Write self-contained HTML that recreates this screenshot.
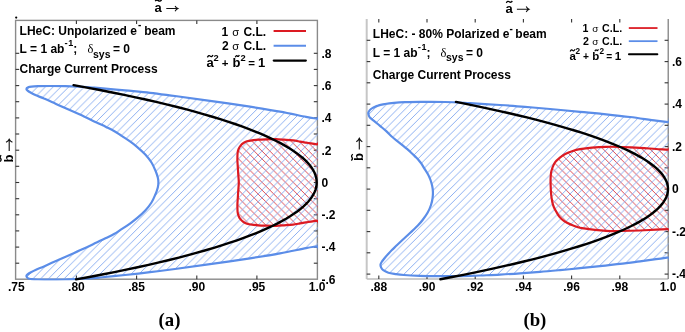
<!DOCTYPE html>
<html><head><meta charset="utf-8"><style>
html,body{margin:0;padding:0;background:#fff;width:685px;height:332px;overflow:hidden}
svg{display:block;will-change:transform}
</style></head><body>
<svg width="685" height="332" viewBox="0 0 685 332" style="font-family:'Liberation Sans',sans-serif;font-weight:bold">
<defs>
<pattern id="hb" patternUnits="userSpaceOnUse" width="7.8" height="7.8" x="7.4" y="0">
<path d="M-1,1 L1,-1 M0,7.8 L7.8,0 M6.8,8.8 L8.8,6.8" stroke="#8aaef1" stroke-width="1" shape-rendering="crispEdges"/>
</pattern>
<pattern id="hr" patternUnits="userSpaceOnUse" width="7.8" height="7.8" x="1.7" y="0">
<path d="M-1,6.8 L1,8.8 M0,0 L7.8,7.8 M6.8,-1 L8.8,1" stroke="#de4650" stroke-width="1" shape-rendering="crispEdges"/>
</pattern>
<clipPath id="cl"><rect x="14.6" y="20.4" width="303.4" height="260.0"/></clipPath>
<clipPath id="cr"><rect x="365.5" y="19.0" width="303.3" height="261.3"/></clipPath>
</defs>
<rect width="685" height="332" fill="#fff"/>

<rect x="15.6" y="20.4" width="301.8" height="258.8" fill="none" stroke="#8a8a8a" stroke-width="1.4"/>
<path d="M76.4,279.2 v-3.6 M76.4,20.4 v3.6" stroke="#333" stroke-width="1.1"/>
<path d="M136.6,279.2 v-3.6 M136.6,20.4 v3.6" stroke="#333" stroke-width="1.1"/>
<path d="M196.8,279.2 v-3.6 M196.8,20.4 v3.6" stroke="#333" stroke-width="1.1"/>
<path d="M256.9,279.2 v-3.6 M256.9,20.4 v3.6" stroke="#333" stroke-width="1.1"/>
<path d="M15.6,263.2 h3.6" stroke="#333" stroke-width="1.1"/>
<path d="M15.6,247.1 h3.6" stroke="#333" stroke-width="1.1"/>
<path d="M15.6,230.9 h3.6" stroke="#333" stroke-width="1.1"/>
<path d="M15.6,214.8 h3.6" stroke="#333" stroke-width="1.1"/>
<path d="M15.6,198.7 h3.6" stroke="#333" stroke-width="1.1"/>
<path d="M15.6,182.5 h3.6" stroke="#333" stroke-width="1.1"/>
<path d="M15.6,166.3 h3.6" stroke="#333" stroke-width="1.1"/>
<path d="M15.6,150.2 h3.6" stroke="#333" stroke-width="1.1"/>
<path d="M15.6,134.0 h3.6" stroke="#333" stroke-width="1.1"/>
<path d="M15.6,117.9 h3.6" stroke="#333" stroke-width="1.1"/>
<path d="M15.6,101.7 h3.6" stroke="#333" stroke-width="1.1"/>
<path d="M15.6,85.6 h3.6" stroke="#333" stroke-width="1.1"/>
<path d="M15.6,69.4 h3.6" stroke="#333" stroke-width="1.1"/>
<path d="M15.6,53.3 h3.6" stroke="#333" stroke-width="1.1"/>
<path d="M317.4,263.2 h-3.6" stroke="#333" stroke-width="1.1"/>
<path d="M317.4,247.1 h-3.6" stroke="#333" stroke-width="1.1"/>
<path d="M317.4,230.9 h-3.6" stroke="#333" stroke-width="1.1"/>
<path d="M317.4,214.8 h-3.6" stroke="#333" stroke-width="1.1"/>
<path d="M317.4,198.7 h-3.6" stroke="#333" stroke-width="1.1"/>
<path d="M317.4,182.5 h-3.6" stroke="#333" stroke-width="1.1"/>
<path d="M317.4,166.3 h-3.6" stroke="#333" stroke-width="1.1"/>
<path d="M317.4,150.2 h-3.6" stroke="#333" stroke-width="1.1"/>
<path d="M317.4,134.0 h-3.6" stroke="#333" stroke-width="1.1"/>
<path d="M317.4,117.9 h-3.6" stroke="#333" stroke-width="1.1"/>
<path d="M317.4,101.7 h-3.6" stroke="#333" stroke-width="1.1"/>
<path d="M317.4,85.6 h-3.6" stroke="#333" stroke-width="1.1"/>
<path d="M317.4,69.4 h-3.6" stroke="#333" stroke-width="1.1"/>
<path d="M317.4,53.3 h-3.6" stroke="#333" stroke-width="1.1"/>
<g clip-path="url(#cl)">
<path d="M322.0,145.1 C321.2,132.5 318.8,144.7 317.0,144.4 C315.2,144.1 312.8,143.7 311.0,143.4 C309.2,143.1 307.8,142.9 306.0,142.6 C304.2,142.3 302.2,142.0 300.0,141.6 C297.8,141.2 295.7,140.7 293.0,140.4 C290.3,140.1 286.8,139.9 284.0,139.7 C281.2,139.5 279.0,139.3 276.0,139.2 C273.0,139.1 269.0,139.2 266.0,139.3 C263.0,139.4 260.3,139.5 258.0,139.7 C255.7,139.9 253.8,140.0 252.0,140.3 C250.2,140.6 248.4,140.9 247.0,141.3 C245.6,141.8 244.6,142.3 243.5,143.0 C242.4,143.7 241.4,144.6 240.6,145.6 C239.8,146.6 239.1,147.8 238.6,149.0 C238.1,150.2 237.8,151.2 237.6,153.0 C237.4,154.8 237.4,157.7 237.4,160.0 C237.4,162.3 237.7,164.5 237.8,167.0 C238.0,169.5 238.1,172.4 238.3,175.0 C238.5,177.6 238.8,180.0 238.8,182.5 C238.8,185.0 238.5,187.4 238.3,190.0 C238.1,192.6 238.0,195.5 237.8,198.0 C237.7,200.5 237.4,202.7 237.4,205.0 C237.4,207.3 237.4,210.2 237.6,212.0 C237.8,213.8 238.1,214.8 238.6,216.0 C239.1,217.2 239.8,218.4 240.6,219.4 C241.4,220.4 242.4,221.3 243.5,222.0 C244.6,222.7 245.6,223.2 247.0,223.7 C248.4,224.1 250.2,224.4 252.0,224.7 C253.8,225.0 255.7,225.1 258.0,225.3 C260.3,225.5 263.0,225.6 266.0,225.7 C269.0,225.8 273.0,225.9 276.0,225.8 C279.0,225.7 281.2,225.5 284.0,225.3 C286.8,225.1 290.3,224.9 293.0,224.6 C295.7,224.3 297.8,223.8 300.0,223.4 C302.2,223.0 304.2,222.7 306.0,222.4 C307.8,222.1 309.2,221.9 311.0,221.6 C312.8,221.3 315.2,220.9 317.0,220.6 C318.8,220.3 321.2,232.5 322.0,219.9 C322.8,207.3 322.8,157.7 322.0,145.1Z" fill="url(#hr)"/>
<path d="M322.0,119.6 C321.2,98.5 319.7,119.2 317.0,118.7 C314.3,118.2 312.2,118.1 306.0,116.9 C299.8,115.7 289.3,113.3 280.0,111.6 C270.7,109.9 261.7,108.5 250.0,106.7 C238.3,104.9 222.5,102.6 210.0,100.8 C197.5,99.0 185.0,97.3 175.0,96.0 C165.0,94.7 158.3,93.7 150.0,92.8 C141.7,91.9 133.3,91.2 125.0,90.4 C116.7,89.6 105.8,88.7 100.0,88.2 C94.2,87.7 93.3,87.5 90.0,87.3 C86.7,87.1 84.3,87.0 80.2,86.8 C76.1,86.6 70.2,86.3 65.2,86.2 C60.2,86.1 54.6,86.0 50.1,86.0 C45.6,86.0 41.1,86.1 38.0,86.2 C34.9,86.3 33.1,86.4 31.5,86.6 C29.9,86.8 29.1,86.9 28.2,87.3 C27.3,87.7 26.5,88.2 26.4,88.8 C26.3,89.3 26.9,90.0 27.6,90.6 C28.3,91.2 29.1,91.7 30.5,92.5 C31.9,93.3 33.8,94.3 36.0,95.3 C38.2,96.3 40.7,97.1 44.0,98.6 C47.3,100.0 52.0,102.2 56.0,104.0 C60.0,105.8 63.3,107.2 68.0,109.3 C72.7,111.4 79.3,114.2 84.0,116.4 C88.7,118.6 92.3,120.5 96.0,122.2 C99.7,124.0 103.0,125.4 106.0,126.9 C109.0,128.4 111.3,129.5 114.0,131.0 C116.7,132.5 119.3,134.4 122.0,136.1 C124.7,137.8 127.5,139.6 130.0,141.4 C132.5,143.2 134.4,144.6 137.0,146.8 C139.6,149.0 142.9,151.9 145.3,154.5 C147.7,157.1 149.8,159.8 151.5,162.5 C153.2,165.2 154.5,168.5 155.6,171.0 C156.7,173.5 157.3,175.6 157.8,177.5 C158.3,179.4 158.4,180.8 158.4,182.5 C158.4,184.2 158.3,185.6 157.8,187.5 C157.3,189.4 156.7,191.5 155.6,194.0 C154.5,196.5 153.2,199.8 151.5,202.5 C149.8,205.2 147.7,207.9 145.3,210.5 C142.9,213.1 139.6,216.0 137.0,218.2 C134.4,220.4 132.5,221.8 130.0,223.6 C127.5,225.4 124.7,227.2 122.0,228.9 C119.3,230.6 116.7,232.5 114.0,234.0 C111.3,235.5 109.0,236.6 106.0,238.1 C103.0,239.6 99.7,241.1 96.0,242.8 C92.3,244.6 88.7,246.4 84.0,248.6 C79.3,250.8 72.7,253.6 68.0,255.7 C63.3,257.8 60.0,259.2 56.0,261.0 C52.0,262.8 47.3,264.9 44.0,266.4 C40.7,267.8 38.2,268.7 36.0,269.7 C33.8,270.7 31.9,271.7 30.5,272.5 C29.1,273.3 28.3,273.8 27.6,274.4 C26.9,275.0 26.3,275.5 26.4,276.2 C26.5,276.9 27.3,277.9 28.2,278.4 C29.1,278.9 29.9,278.9 31.5,279.1 C33.1,279.3 34.9,279.4 38.0,279.5 C41.1,279.6 45.6,279.7 50.1,279.7 C54.6,279.7 60.2,279.6 65.2,279.5 C70.2,279.4 76.1,279.1 80.2,278.9 C84.3,278.7 86.7,278.6 90.0,278.4 C93.3,278.2 94.2,278.1 100.0,277.5 C105.8,276.9 116.7,275.8 125.0,275.0 C133.3,274.1 141.7,273.2 150.0,272.2 C158.3,271.2 165.0,270.3 175.0,269.0 C185.0,267.7 197.5,266.0 210.0,264.2 C222.5,262.4 238.3,260.1 250.0,258.3 C261.7,256.5 270.7,255.1 280.0,253.4 C289.3,251.7 299.8,249.3 306.0,248.1 C312.2,246.9 314.3,246.8 317.0,246.3 C319.7,245.9 321.2,266.5 322.0,245.4 C322.8,224.3 322.8,140.7 322.0,119.6Z" fill="url(#hb)"/>
<path d="M322.0,119.6 C321.2,98.5 319.7,119.2 317.0,118.7 C314.3,118.2 312.2,118.1 306.0,116.9 C299.8,115.7 289.3,113.3 280.0,111.6 C270.7,109.9 261.7,108.5 250.0,106.7 C238.3,104.9 222.5,102.6 210.0,100.8 C197.5,99.0 185.0,97.3 175.0,96.0 C165.0,94.7 158.3,93.7 150.0,92.8 C141.7,91.9 133.3,91.2 125.0,90.4 C116.7,89.6 105.8,88.7 100.0,88.2 C94.2,87.7 93.3,87.5 90.0,87.3 C86.7,87.1 84.3,87.0 80.2,86.8 C76.1,86.6 70.2,86.3 65.2,86.2 C60.2,86.1 54.6,86.0 50.1,86.0 C45.6,86.0 41.1,86.1 38.0,86.2 C34.9,86.3 33.1,86.4 31.5,86.6 C29.9,86.8 29.1,86.9 28.2,87.3 C27.3,87.7 26.5,88.2 26.4,88.8 C26.3,89.3 26.9,90.0 27.6,90.6 C28.3,91.2 29.1,91.7 30.5,92.5 C31.9,93.3 33.8,94.3 36.0,95.3 C38.2,96.3 40.7,97.1 44.0,98.6 C47.3,100.0 52.0,102.2 56.0,104.0 C60.0,105.8 63.3,107.2 68.0,109.3 C72.7,111.4 79.3,114.2 84.0,116.4 C88.7,118.6 92.3,120.5 96.0,122.2 C99.7,124.0 103.0,125.4 106.0,126.9 C109.0,128.4 111.3,129.5 114.0,131.0 C116.7,132.5 119.3,134.4 122.0,136.1 C124.7,137.8 127.5,139.6 130.0,141.4 C132.5,143.2 134.4,144.6 137.0,146.8 C139.6,149.0 142.9,151.9 145.3,154.5 C147.7,157.1 149.8,159.8 151.5,162.5 C153.2,165.2 154.5,168.5 155.6,171.0 C156.7,173.5 157.3,175.6 157.8,177.5 C158.3,179.4 158.4,180.8 158.4,182.5 C158.4,184.2 158.3,185.6 157.8,187.5 C157.3,189.4 156.7,191.5 155.6,194.0 C154.5,196.5 153.2,199.8 151.5,202.5 C149.8,205.2 147.7,207.9 145.3,210.5 C142.9,213.1 139.6,216.0 137.0,218.2 C134.4,220.4 132.5,221.8 130.0,223.6 C127.5,225.4 124.7,227.2 122.0,228.9 C119.3,230.6 116.7,232.5 114.0,234.0 C111.3,235.5 109.0,236.6 106.0,238.1 C103.0,239.6 99.7,241.1 96.0,242.8 C92.3,244.6 88.7,246.4 84.0,248.6 C79.3,250.8 72.7,253.6 68.0,255.7 C63.3,257.8 60.0,259.2 56.0,261.0 C52.0,262.8 47.3,264.9 44.0,266.4 C40.7,267.8 38.2,268.7 36.0,269.7 C33.8,270.7 31.9,271.7 30.5,272.5 C29.1,273.3 28.3,273.8 27.6,274.4 C26.9,275.0 26.3,275.5 26.4,276.2 C26.5,276.9 27.3,277.9 28.2,278.4 C29.1,278.9 29.9,278.9 31.5,279.1 C33.1,279.3 34.9,279.4 38.0,279.5 C41.1,279.6 45.6,279.7 50.1,279.7 C54.6,279.7 60.2,279.6 65.2,279.5 C70.2,279.4 76.1,279.1 80.2,278.9 C84.3,278.7 86.7,278.6 90.0,278.4 C93.3,278.2 94.2,278.1 100.0,277.5 C105.8,276.9 116.7,275.8 125.0,275.0 C133.3,274.1 141.7,273.2 150.0,272.2 C158.3,271.2 165.0,270.3 175.0,269.0 C185.0,267.7 197.5,266.0 210.0,264.2 C222.5,262.4 238.3,260.1 250.0,258.3 C261.7,256.5 270.7,255.1 280.0,253.4 C289.3,251.7 299.8,249.3 306.0,248.1 C312.2,246.9 314.3,246.8 317.0,246.3 C319.7,245.9 321.2,266.5 322.0,245.4 C322.8,224.3 322.8,140.7 322.0,119.6Z" fill="none" stroke="#5b8de8" stroke-width="2.2" stroke-linejoin="round"/>
<path d="M322.0,145.1 C321.2,132.5 318.8,144.7 317.0,144.4 C315.2,144.1 312.8,143.7 311.0,143.4 C309.2,143.1 307.8,142.9 306.0,142.6 C304.2,142.3 302.2,142.0 300.0,141.6 C297.8,141.2 295.7,140.7 293.0,140.4 C290.3,140.1 286.8,139.9 284.0,139.7 C281.2,139.5 279.0,139.3 276.0,139.2 C273.0,139.1 269.0,139.2 266.0,139.3 C263.0,139.4 260.3,139.5 258.0,139.7 C255.7,139.9 253.8,140.0 252.0,140.3 C250.2,140.6 248.4,140.9 247.0,141.3 C245.6,141.8 244.6,142.3 243.5,143.0 C242.4,143.7 241.4,144.6 240.6,145.6 C239.8,146.6 239.1,147.8 238.6,149.0 C238.1,150.2 237.8,151.2 237.6,153.0 C237.4,154.8 237.4,157.7 237.4,160.0 C237.4,162.3 237.7,164.5 237.8,167.0 C238.0,169.5 238.1,172.4 238.3,175.0 C238.5,177.6 238.8,180.0 238.8,182.5 C238.8,185.0 238.5,187.4 238.3,190.0 C238.1,192.6 238.0,195.5 237.8,198.0 C237.7,200.5 237.4,202.7 237.4,205.0 C237.4,207.3 237.4,210.2 237.6,212.0 C237.8,213.8 238.1,214.8 238.6,216.0 C239.1,217.2 239.8,218.4 240.6,219.4 C241.4,220.4 242.4,221.3 243.5,222.0 C244.6,222.7 245.6,223.2 247.0,223.7 C248.4,224.1 250.2,224.4 252.0,224.7 C253.8,225.0 255.7,225.1 258.0,225.3 C260.3,225.5 263.0,225.6 266.0,225.7 C269.0,225.8 273.0,225.9 276.0,225.8 C279.0,225.7 281.2,225.5 284.0,225.3 C286.8,225.1 290.3,224.9 293.0,224.6 C295.7,224.3 297.8,223.8 300.0,223.4 C302.2,223.0 304.2,222.7 306.0,222.4 C307.8,222.1 309.2,221.9 311.0,221.6 C312.8,221.3 315.2,220.9 317.0,220.6 C318.8,220.3 321.2,232.5 322.0,219.9 C322.8,207.3 322.8,157.7 322.0,145.1Z" fill="none" stroke="#dc1a22" stroke-width="2.2" stroke-linejoin="round"/>
</g>
<path d="M73.55,85.16 L86.96,87.59 L99.84,90.02 L112.24,92.45 L124.16,94.88 L135.62,97.30 L146.63,99.73 L157.22,102.16 L167.39,104.59 L177.15,107.02 L186.52,109.44 L195.51,111.87 L204.12,114.30 L212.37,116.73 L220.26,119.16 L227.80,121.58 L235.00,124.01 L241.86,126.44 L248.40,128.87 L254.61,131.30 L260.50,133.72 L266.07,136.15 L271.34,138.58 L276.30,141.01 L280.96,143.43 L285.32,145.86 L289.39,148.29 L293.17,150.72 L296.65,153.15 L299.86,155.57 L302.77,158.00 L305.41,160.43 L307.77,162.86 L309.84,165.29 L311.65,167.71 L313.17,170.14 L314.42,172.57 L315.40,175.00 L316.11,177.43 L316.54,179.85 L316.70,182.28 L316.59,184.71 L316.20,187.14 L315.55,189.57 L314.62,191.99 L313.42,194.42 L311.94,196.85 L310.19,199.28 L308.16,201.71 L305.85,204.13 L303.27,206.56 L300.40,208.99 L297.25,211.42 L293.81,213.85 L290.09,216.27 L286.07,218.70 L281.77,221.13 L277.16,223.56 L272.25,225.99 L267.04,228.41 L261.52,230.84 L255.69,233.27 L249.54,235.70 L243.06,238.12 L236.26,240.55 L229.12,242.98 L221.64,245.41 L213.81,247.84 L205.63,250.26 L197.08,252.69 L188.16,255.12 L178.86,257.55 L169.17,259.98 L159.07,262.40 L148.56,264.83 L137.63,267.26 L126.25,269.69 L114.41,272.12 L102.11,274.54 L89.31,276.97 L76.00,279.40" fill="none" stroke="#000" stroke-width="2.4" stroke-linecap="round"/>
<path d="M366.7,19.0 V279.1" fill="none" stroke="#c6c6c6" stroke-width="2"/>
<path d="M366.7,279.1 H668.2" fill="none" stroke="#bdbdbd" stroke-width="1.5"/>
<path d="M668.2,279.1 V19.0" fill="none" stroke="#777" stroke-width="1.2"/>
<path d="M378.8,279.1 v-3.6 M378.8,19.0 v3.6" stroke="#333" stroke-width="1.1"/>
<path d="M427.0,279.1 v-3.6 M427.0,19.0 v3.6" stroke="#333" stroke-width="1.1"/>
<path d="M475.2,279.1 v-3.6 M475.2,19.0 v3.6" stroke="#333" stroke-width="1.1"/>
<path d="M523.4,279.1 v-3.6 M523.4,19.0 v3.6" stroke="#333" stroke-width="1.1"/>
<path d="M571.6,279.1 v-3.6 M571.6,19.0 v3.6" stroke="#333" stroke-width="1.1"/>
<path d="M619.8,279.1 v-3.6 M619.8,19.0 v3.6" stroke="#333" stroke-width="1.1"/>
<path d="M366.7,274.1 h3.6" stroke="#333" stroke-width="1.1"/>
<path d="M366.7,252.8 h3.6" stroke="#333" stroke-width="1.1"/>
<path d="M366.7,231.6 h3.6" stroke="#333" stroke-width="1.1"/>
<path d="M366.7,210.3 h3.6" stroke="#333" stroke-width="1.1"/>
<path d="M366.7,189.1 h3.6" stroke="#333" stroke-width="1.1"/>
<path d="M366.7,167.8 h3.6" stroke="#333" stroke-width="1.1"/>
<path d="M366.7,146.6 h3.6" stroke="#333" stroke-width="1.1"/>
<path d="M366.7,125.3 h3.6" stroke="#333" stroke-width="1.1"/>
<path d="M366.7,104.1 h3.6" stroke="#333" stroke-width="1.1"/>
<path d="M366.7,82.8 h3.6" stroke="#333" stroke-width="1.1"/>
<path d="M366.7,61.6 h3.6" stroke="#333" stroke-width="1.1"/>
<path d="M366.7,40.3 h3.6" stroke="#333" stroke-width="1.1"/>
<path d="M668.2,274.1 h-3.6" stroke="#333" stroke-width="1.1"/>
<path d="M668.2,252.8 h-3.6" stroke="#333" stroke-width="1.1"/>
<path d="M668.2,231.6 h-3.6" stroke="#333" stroke-width="1.1"/>
<path d="M668.2,210.3 h-3.6" stroke="#333" stroke-width="1.1"/>
<path d="M668.2,189.1 h-3.6" stroke="#333" stroke-width="1.1"/>
<path d="M668.2,167.8 h-3.6" stroke="#333" stroke-width="1.1"/>
<path d="M668.2,146.6 h-3.6" stroke="#333" stroke-width="1.1"/>
<path d="M668.2,125.3 h-3.6" stroke="#333" stroke-width="1.1"/>
<path d="M668.2,104.1 h-3.6" stroke="#333" stroke-width="1.1"/>
<path d="M668.2,82.8 h-3.6" stroke="#333" stroke-width="1.1"/>
<path d="M668.2,61.6 h-3.6" stroke="#333" stroke-width="1.1"/>
<path d="M668.2,40.3 h-3.6" stroke="#333" stroke-width="1.1"/>
<g clip-path="url(#cr)">
<path d="M672.0,150.0 C671.3,136.8 670.7,149.9 668.0,149.7 C665.3,149.5 660.7,149.3 656.0,149.0 C651.3,148.7 645.7,148.1 640.0,147.8 C634.3,147.5 627.7,147.2 622.0,147.0 C616.3,146.8 611.0,146.7 606.0,146.8 C601.0,146.9 596.3,147.2 592.0,147.6 C587.7,148.0 583.3,148.6 580.0,149.2 C576.7,149.8 574.6,150.4 572.1,151.2 C569.6,152.0 567.4,152.9 565.3,154.0 C563.2,155.1 561.3,156.5 559.6,157.9 C557.9,159.3 556.4,160.5 555.2,162.2 C554.0,163.9 553.0,166.0 552.3,168.0 C551.6,170.0 551.2,171.3 550.9,174.0 C550.6,176.7 550.5,180.5 550.6,184.0 C550.7,187.5 550.9,192.0 551.2,195.0 C551.5,198.0 551.9,200.0 552.3,202.0 C552.7,204.0 553.1,205.4 553.8,207.0 C554.5,208.6 555.3,210.1 556.3,211.8 C557.3,213.5 558.3,215.5 559.7,217.1 C561.1,218.7 562.6,220.1 564.5,221.4 C566.4,222.7 569.0,223.8 571.3,224.8 C573.5,225.8 575.9,226.6 578.0,227.2 C580.1,227.8 581.2,227.9 584.0,228.4 C586.8,228.9 591.3,229.5 595.0,229.9 C598.7,230.3 601.8,230.6 606.0,230.8 C610.2,231.0 614.3,231.1 620.0,231.0 C625.7,230.9 634.0,230.7 640.0,230.5 C646.0,230.3 651.3,229.9 656.0,229.7 C660.7,229.5 665.3,229.3 668.0,229.2 C670.7,229.1 671.3,242.2 672.0,229.0 C672.7,215.8 672.7,163.2 672.0,150.0Z" fill="url(#hr)"/>
<path d="M672.0,122.6 C671.3,100.1 670.7,122.4 668.0,122.1 C665.3,121.8 662.3,121.4 656.0,120.6 C649.7,119.8 639.3,118.2 630.0,117.0 C620.7,115.8 608.3,114.5 600.0,113.6 C591.7,112.7 588.3,112.6 580.0,111.8 C571.7,111.0 559.2,109.8 550.0,109.0 C540.8,108.2 533.3,107.5 525.0,106.8 C516.7,106.1 509.2,105.6 500.0,105.0 C490.8,104.4 479.2,103.7 470.0,103.2 C460.8,102.7 453.3,102.2 445.0,102.0 C436.7,101.8 426.7,101.9 420.0,101.9 C413.3,101.9 409.3,102.1 405.0,102.2 C400.7,102.3 397.3,102.5 394.0,102.8 C390.7,103.1 387.7,103.5 385.0,104.0 C382.3,104.5 380.0,104.9 378.0,105.6 C376.0,106.2 374.2,107.2 372.8,107.9 C371.4,108.7 370.5,109.3 369.8,110.1 C369.1,110.9 368.6,111.8 368.4,112.6 C368.2,113.4 368.4,114.4 368.7,115.2 C369.0,116.0 369.1,116.6 370.0,117.6 C370.9,118.5 372.3,119.5 374.0,120.9 C375.7,122.3 378.0,124.1 380.0,125.8 C382.0,127.5 384.0,129.1 386.0,130.9 C388.0,132.7 390.3,135.3 392.0,136.8 C393.7,138.3 394.3,138.8 396.0,140.1 C397.7,141.4 400.2,143.4 402.0,144.9 C403.8,146.4 405.5,147.6 407.0,148.9 C408.5,150.2 409.9,151.4 411.2,152.7 C412.5,153.9 413.8,155.2 415.0,156.4 C416.2,157.6 417.5,158.8 418.5,160.0 C419.5,161.2 420.4,162.2 421.2,163.4 C422.0,164.6 422.4,165.3 423.5,167.1 C424.6,168.9 426.6,171.8 427.8,174.0 C429.0,176.2 429.8,178.0 430.5,180.0 C431.2,182.0 431.8,184.1 432.2,186.0 C432.6,187.9 432.8,189.5 432.9,191.5 C433.0,193.5 432.9,195.8 432.6,198.0 C432.3,200.2 431.8,202.6 431.0,205.0 C430.2,207.4 429.1,210.0 427.7,212.5 C426.3,215.0 424.2,217.9 422.6,220.0 C421.0,222.1 419.9,223.3 418.3,225.0 C416.7,226.7 414.9,228.3 413.2,230.0 C411.5,231.7 409.7,233.3 407.9,235.0 C406.1,236.7 404.2,238.3 402.4,240.0 C400.6,241.7 398.9,243.3 397.1,245.0 C395.4,246.7 393.5,248.4 391.9,250.0 C390.3,251.6 389.0,253.1 387.7,254.5 C386.4,255.9 385.2,257.3 384.3,258.5 C383.4,259.7 382.6,260.5 382.0,261.5 C381.4,262.5 380.6,263.6 380.5,264.6 C380.4,265.6 380.8,266.7 381.2,267.6 C381.6,268.5 382.0,269.4 383.2,270.2 C384.4,271.0 386.2,272.0 388.4,272.7 C390.5,273.4 393.5,273.7 396.1,274.1 C398.7,274.5 400.0,274.7 404.0,275.0 C408.0,275.3 414.0,275.6 420.0,275.8 C426.0,276.0 433.3,276.1 440.0,276.2 C446.7,276.2 453.3,276.2 460.0,276.1 C466.7,276.0 473.3,275.8 480.0,275.5 C486.7,275.2 493.3,275.0 500.0,274.6 C506.7,274.2 513.3,273.8 520.0,273.3 C526.7,272.8 533.3,272.3 540.0,271.8 C546.7,271.3 553.3,270.7 560.0,270.1 C566.7,269.5 573.3,268.9 580.0,268.2 C586.7,267.5 593.3,266.9 600.0,266.2 C606.7,265.5 613.3,264.6 620.0,263.8 C626.7,263.0 634.0,262.2 640.0,261.4 C646.0,260.6 651.3,259.8 656.0,259.2 C660.7,258.6 665.3,257.9 668.0,257.5 C670.7,257.1 671.3,279.4 672.0,256.9 C672.7,234.4 672.7,145.1 672.0,122.6Z" fill="url(#hb)"/>
<path d="M672.0,122.6 C671.3,100.1 670.7,122.4 668.0,122.1 C665.3,121.8 662.3,121.4 656.0,120.6 C649.7,119.8 639.3,118.2 630.0,117.0 C620.7,115.8 608.3,114.5 600.0,113.6 C591.7,112.7 588.3,112.6 580.0,111.8 C571.7,111.0 559.2,109.8 550.0,109.0 C540.8,108.2 533.3,107.5 525.0,106.8 C516.7,106.1 509.2,105.6 500.0,105.0 C490.8,104.4 479.2,103.7 470.0,103.2 C460.8,102.7 453.3,102.2 445.0,102.0 C436.7,101.8 426.7,101.9 420.0,101.9 C413.3,101.9 409.3,102.1 405.0,102.2 C400.7,102.3 397.3,102.5 394.0,102.8 C390.7,103.1 387.7,103.5 385.0,104.0 C382.3,104.5 380.0,104.9 378.0,105.6 C376.0,106.2 374.2,107.2 372.8,107.9 C371.4,108.7 370.5,109.3 369.8,110.1 C369.1,110.9 368.6,111.8 368.4,112.6 C368.2,113.4 368.4,114.4 368.7,115.2 C369.0,116.0 369.1,116.6 370.0,117.6 C370.9,118.5 372.3,119.5 374.0,120.9 C375.7,122.3 378.0,124.1 380.0,125.8 C382.0,127.5 384.0,129.1 386.0,130.9 C388.0,132.7 390.3,135.3 392.0,136.8 C393.7,138.3 394.3,138.8 396.0,140.1 C397.7,141.4 400.2,143.4 402.0,144.9 C403.8,146.4 405.5,147.6 407.0,148.9 C408.5,150.2 409.9,151.4 411.2,152.7 C412.5,153.9 413.8,155.2 415.0,156.4 C416.2,157.6 417.5,158.8 418.5,160.0 C419.5,161.2 420.4,162.2 421.2,163.4 C422.0,164.6 422.4,165.3 423.5,167.1 C424.6,168.9 426.6,171.8 427.8,174.0 C429.0,176.2 429.8,178.0 430.5,180.0 C431.2,182.0 431.8,184.1 432.2,186.0 C432.6,187.9 432.8,189.5 432.9,191.5 C433.0,193.5 432.9,195.8 432.6,198.0 C432.3,200.2 431.8,202.6 431.0,205.0 C430.2,207.4 429.1,210.0 427.7,212.5 C426.3,215.0 424.2,217.9 422.6,220.0 C421.0,222.1 419.9,223.3 418.3,225.0 C416.7,226.7 414.9,228.3 413.2,230.0 C411.5,231.7 409.7,233.3 407.9,235.0 C406.1,236.7 404.2,238.3 402.4,240.0 C400.6,241.7 398.9,243.3 397.1,245.0 C395.4,246.7 393.5,248.4 391.9,250.0 C390.3,251.6 389.0,253.1 387.7,254.5 C386.4,255.9 385.2,257.3 384.3,258.5 C383.4,259.7 382.6,260.5 382.0,261.5 C381.4,262.5 380.6,263.6 380.5,264.6 C380.4,265.6 380.8,266.7 381.2,267.6 C381.6,268.5 382.0,269.4 383.2,270.2 C384.4,271.0 386.2,272.0 388.4,272.7 C390.5,273.4 393.5,273.7 396.1,274.1 C398.7,274.5 400.0,274.7 404.0,275.0 C408.0,275.3 414.0,275.6 420.0,275.8 C426.0,276.0 433.3,276.1 440.0,276.2 C446.7,276.2 453.3,276.2 460.0,276.1 C466.7,276.0 473.3,275.8 480.0,275.5 C486.7,275.2 493.3,275.0 500.0,274.6 C506.7,274.2 513.3,273.8 520.0,273.3 C526.7,272.8 533.3,272.3 540.0,271.8 C546.7,271.3 553.3,270.7 560.0,270.1 C566.7,269.5 573.3,268.9 580.0,268.2 C586.7,267.5 593.3,266.9 600.0,266.2 C606.7,265.5 613.3,264.6 620.0,263.8 C626.7,263.0 634.0,262.2 640.0,261.4 C646.0,260.6 651.3,259.8 656.0,259.2 C660.7,258.6 665.3,257.9 668.0,257.5 C670.7,257.1 671.3,279.4 672.0,256.9 C672.7,234.4 672.7,145.1 672.0,122.6Z" fill="none" stroke="#5b8de8" stroke-width="2.2" stroke-linejoin="round"/>
<path d="M672.0,150.0 C671.3,136.8 670.7,149.9 668.0,149.7 C665.3,149.5 660.7,149.3 656.0,149.0 C651.3,148.7 645.7,148.1 640.0,147.8 C634.3,147.5 627.7,147.2 622.0,147.0 C616.3,146.8 611.0,146.7 606.0,146.8 C601.0,146.9 596.3,147.2 592.0,147.6 C587.7,148.0 583.3,148.6 580.0,149.2 C576.7,149.8 574.6,150.4 572.1,151.2 C569.6,152.0 567.4,152.9 565.3,154.0 C563.2,155.1 561.3,156.5 559.6,157.9 C557.9,159.3 556.4,160.5 555.2,162.2 C554.0,163.9 553.0,166.0 552.3,168.0 C551.6,170.0 551.2,171.3 550.9,174.0 C550.6,176.7 550.5,180.5 550.6,184.0 C550.7,187.5 550.9,192.0 551.2,195.0 C551.5,198.0 551.9,200.0 552.3,202.0 C552.7,204.0 553.1,205.4 553.8,207.0 C554.5,208.6 555.3,210.1 556.3,211.8 C557.3,213.5 558.3,215.5 559.7,217.1 C561.1,218.7 562.6,220.1 564.5,221.4 C566.4,222.7 569.0,223.8 571.3,224.8 C573.5,225.8 575.9,226.6 578.0,227.2 C580.1,227.8 581.2,227.9 584.0,228.4 C586.8,228.9 591.3,229.5 595.0,229.9 C598.7,230.3 601.8,230.6 606.0,230.8 C610.2,231.0 614.3,231.1 620.0,231.0 C625.7,230.9 634.0,230.7 640.0,230.5 C646.0,230.3 651.3,229.9 656.0,229.7 C660.7,229.5 665.3,229.3 668.0,229.2 C670.7,229.1 671.3,242.2 672.0,229.0 C672.7,215.8 672.7,163.2 672.0,150.0Z" fill="none" stroke="#dc1a22" stroke-width="2.2" stroke-linejoin="round"/>
</g>
<path d="M455.92,101.93 L467.05,104.15 L477.85,106.37 L488.30,108.58 L498.43,110.80 L508.23,113.02 L517.71,115.23 L526.87,117.45 L535.72,119.67 L544.25,121.88 L552.48,124.10 L560.40,126.31 L568.03,128.53 L575.35,130.75 L582.39,132.96 L589.13,135.18 L595.57,137.40 L601.74,139.61 L607.61,141.83 L613.21,144.05 L618.52,146.26 L623.56,148.48 L628.31,150.69 L632.79,152.91 L637.00,155.13 L640.94,157.34 L644.60,159.56 L647.99,161.78 L651.12,163.99 L653.98,166.21 L656.57,168.43 L658.89,170.64 L660.95,172.86 L662.74,175.07 L664.28,177.29 L665.54,179.51 L666.55,181.72 L667.29,183.94 L667.77,186.16 L667.99,188.37 L667.94,190.59 L667.63,192.80 L667.06,195.02 L666.23,197.24 L665.14,199.45 L663.78,201.67 L662.16,203.89 L660.27,206.10 L658.12,208.32 L655.71,210.54 L653.03,212.75 L650.08,214.97 L646.86,217.18 L643.37,219.40 L639.62,221.62 L635.59,223.83 L631.29,226.05 L626.71,228.27 L621.86,230.48 L616.73,232.70 L611.32,234.92 L605.63,237.13 L599.65,239.35 L593.39,241.56 L586.84,243.78 L580.01,246.00 L572.87,248.21 L565.45,250.43 L557.72,252.65 L549.69,254.86 L541.36,257.08 L532.71,259.30 L523.76,261.51 L514.49,263.73 L504.90,265.94 L494.99,268.16 L484.75,270.38 L474.18,272.59 L463.27,274.81 L452.02,277.03 L440.42,279.24" fill="none" stroke="#000" stroke-width="2.4" stroke-linecap="round"/>
<text x="19.6" y="34.7" font-size="12" text-anchor="start" >LHeC: Unpolarized e</text>
<text x="138.0" y="28.400000000000002" font-size="10" text-anchor="start" >-</text>
<text x="144.2" y="34.7" font-size="12" text-anchor="start" >beam</text>
<text x="19.6" y="53.1" font-size="12" text-anchor="start" >L = 1 ab</text>
<text x="64.6" y="46.300000000000004" font-size="9.5" text-anchor="start" >-</text>
<text x="68.2" y="46.300000000000004" font-size="9" text-anchor="start" >1</text>
<text x="73.2" y="53.1" font-size="12" text-anchor="start" >;</text>
<text x="87.6" y="53.1" font-size="12.5" font-weight="normal" font-family="Liberation Serif">δ</text>
<text x="93.0" y="57.6" font-size="10.5" text-anchor="start" >sys</text>
<text x="112.9" y="53.1" font-size="12" text-anchor="start" >= 0</text>
<text x="19.6" y="72.9" font-size="12" text-anchor="start" >Charge Current Process</text>
<g><text x="221.4" y="35.8" font-size="12" text-anchor="start" >1</text>
<text x="221.9" y="50.3" font-size="12" text-anchor="start" >2</text>
<text x="232.3" y="35.8" font-size="11.2" font-weight="normal">σ</text>
<text x="243.4" y="35.8" font-size="12" text-anchor="start" >C.L.</text>
<text x="232.3" y="50.3" font-size="11.2" font-weight="normal">σ</text>
<text x="243.4" y="50.3" font-size="12" text-anchor="start" >C.L.</text>
<text x="206.6" y="66.9" font-size="13" text-anchor="start" >a</text>
<path d="M207.4,57.4 Q208.8,54.6 210.2,56.1 Q211.6,57.6 213.0,55.0" fill="none" stroke="#000" stroke-width="1.35"/>
<text x="213.5" y="60.7" font-size="9.3" text-anchor="start" >2</text>
<text x="221.8" y="66.9" font-size="11.5" text-anchor="start" >+</text>
<text x="232.5" y="66.9" font-size="13" text-anchor="start" >b</text>
<path d="M235.3,57.2 Q236.3,54.8 237.3,56.0 Q238.3,57.2 239.3,54.9" fill="none" stroke="#000" stroke-width="1.3"/>
<text x="240.6" y="60.7" font-size="9.3" text-anchor="start" >2</text>
<text x="248.3" y="66.9" font-size="11.5" text-anchor="start" >=</text>
<text x="257.9" y="66.9" font-size="13" text-anchor="start" >1</text>
<path d="M273.6,31 H306" stroke="#dc1a22" stroke-width="2"/>
<path d="M273.6,45.8 H306" stroke="#5b8de8" stroke-width="2"/>
<path d="M273.8,60.6 H305.8" stroke="#000" stroke-width="2.3" stroke-linecap="round"/></g>
<g transform="translate(386.39,0.58) scale(0.886)"><text x="221.4" y="35.8" font-size="12" text-anchor="start" >1</text>
<text x="221.9" y="50.3" font-size="12" text-anchor="start" >2</text>
<text x="232.3" y="35.8" font-size="11.2" font-weight="normal">σ</text>
<text x="243.4" y="35.8" font-size="12" text-anchor="start" >C.L.</text>
<text x="232.3" y="50.3" font-size="11.2" font-weight="normal">σ</text>
<text x="243.4" y="50.3" font-size="12" text-anchor="start" >C.L.</text>
<text x="206.6" y="66.9" font-size="13" text-anchor="start" >a</text>
<path d="M207.4,57.4 Q208.8,54.6 210.2,56.1 Q211.6,57.6 213.0,55.0" fill="none" stroke="#000" stroke-width="1.35"/>
<text x="213.5" y="60.7" font-size="9.3" text-anchor="start" >2</text>
<text x="221.8" y="66.9" font-size="11.5" text-anchor="start" >+</text>
<text x="232.5" y="66.9" font-size="13" text-anchor="start" >b</text>
<path d="M235.3,57.2 Q236.3,54.8 237.3,56.0 Q238.3,57.2 239.3,54.9" fill="none" stroke="#000" stroke-width="1.3"/>
<text x="240.6" y="60.7" font-size="9.3" text-anchor="start" >2</text>
<text x="248.3" y="66.9" font-size="11.5" text-anchor="start" >=</text>
<text x="257.9" y="66.9" font-size="13" text-anchor="start" >1</text>
<path d="M273.6,31 H306" stroke="#dc1a22" stroke-width="2"/>
<path d="M273.6,45.8 H306" stroke="#5b8de8" stroke-width="2"/>
<path d="M273.8,60.6 H305.8" stroke="#000" stroke-width="2.3" stroke-linecap="round"/></g>
<text x="321.5" y="57.59999999999998" font-size="12" text-anchor="start" >.8</text>
<text x="321.5" y="89.9" font-size="12" text-anchor="start" >.6</text>
<text x="321.5" y="122.19999999999999" font-size="12" text-anchor="start" >.4</text>
<text x="321.5" y="154.5" font-size="12" text-anchor="start" >.2</text>
<text x="321.5" y="186.8" font-size="12" text-anchor="start" >0</text>
<text x="321.5" y="219.10000000000002" font-size="12" text-anchor="start" >-.2</text>
<text x="321.5" y="251.40000000000003" font-size="12" text-anchor="start" >-.4</text>
<text x="321.5" y="283.7" font-size="12" text-anchor="start" >-.6</text>
<text x="16.22499999999995" y="290.6" font-size="12" text-anchor="middle" >.75</text>
<text x="76.4" y="290.6" font-size="12" text-anchor="middle" >.80</text>
<text x="136.57499999999993" y="290.6" font-size="12" text-anchor="middle" >.85</text>
<text x="196.75" y="290.6" font-size="12" text-anchor="middle" >.90</text>
<text x="256.9249999999999" y="290.6" font-size="12" text-anchor="middle" >.95</text>
<text x="317.09999999999997" y="290.6" font-size="12" text-anchor="middle" >1.0</text>
<text x="158.2" y="11.8" font-size="13" text-anchor="middle" >a</text>
<path d="M166.3,8.5 H177.4 M175.1,5.9 Q176,7.7 177.9,8.5 Q176,9.3 175.1,11.2" fill="none" stroke="#111" stroke-width="1.1"/>
<path d="M155.2,1.2 Q156.6,-0.6 158.3,0.6 Q160,1.8 161.6,0.0" fill="none" stroke="#000" stroke-width="1.3"/>
<text x="372.8" y="38.2" font-size="12" text-anchor="start" >LHeC: - 80% Polarized e</text>
<text x="509.5" y="31.900000000000002" font-size="10" text-anchor="start" >-</text>
<text x="515.3" y="38.2" font-size="12" text-anchor="start" >beam</text>
<text x="372.8" y="56.9" font-size="12" text-anchor="start" >L = 1 ab</text>
<text x="417.8" y="50.1" font-size="9.5" text-anchor="start" >-</text>
<text x="421.4" y="50.1" font-size="9" text-anchor="start" >1</text>
<text x="426.4" y="56.9" font-size="12" text-anchor="start" >;</text>
<text x="440.6" y="56.9" font-size="12.5" font-weight="normal" font-family="Liberation Serif">δ</text>
<text x="446.0" y="61.4" font-size="10.5" text-anchor="start" >sys</text>
<text x="465.9" y="56.9" font-size="12" text-anchor="start" >= 0</text>
<text x="372.8" y="78.6" font-size="12" text-anchor="start" >Charge Current Process</text>
<text x="672" y="65.89999999999999" font-size="12" text-anchor="start" >.6</text>
<text x="672" y="108.39999999999999" font-size="12" text-anchor="start" >.4</text>
<text x="672" y="150.9" font-size="12" text-anchor="start" >.2</text>
<text x="672" y="193.4" font-size="12" text-anchor="start" >0</text>
<text x="672" y="235.9" font-size="12" text-anchor="start" >-.2</text>
<text x="672" y="278.40000000000003" font-size="12" text-anchor="start" >-.4</text>
<text x="378.8" y="290.6" font-size="12" text-anchor="middle" >.88</text>
<text x="427.00000000000006" y="290.6" font-size="12" text-anchor="middle" >.90</text>
<text x="475.2000000000001" y="290.6" font-size="12" text-anchor="middle" >.92</text>
<text x="523.3999999999999" y="290.6" font-size="12" text-anchor="middle" >.94</text>
<text x="571.5999999999999" y="290.6" font-size="12" text-anchor="middle" >.96</text>
<text x="619.8" y="290.6" font-size="12" text-anchor="middle" >.98</text>
<text x="668.0" y="290.6" font-size="12" text-anchor="middle" >1.0</text>
<text x="509" y="13" font-size="13" text-anchor="middle" >a</text>
<path d="M516.9,9.2 H528.5 M526.2,6.6 Q527.1,8.4 529,9.2 Q527.1,10 526.2,11.9" fill="none" stroke="#111" stroke-width="1.1"/>
<path d="M506.3,2.8 Q507.8,0.6 509.3,1.8 Q510.8,3 512.3,1.0" fill="none" stroke="#000" stroke-width="1.3"/>
<g transform="translate(12.8,162.4) rotate(-90)"><text x="0" y="0" font-size="13">b</text></g>
<path d="M9.2,151 V139.6 M6,142.3 Q8,141.3 9.2,139.2 Q10.4,141.3 12.4,142.3" fill="none" stroke="#111" stroke-width="1.1"/>
<path d="M1.2,155.3 Q-0.6,156.8 0.6,158.4 Q1.8,160 0,161.6" fill="none" stroke="#000" stroke-width="1.3"/>
<g transform="translate(363.4,161) rotate(-90)"><text x="0" y="0" font-size="13">b</text></g>
<path d="M359.3,149.4 V138.6 M356.3,141.7 Q358.2,140.6 359.3,138.2 Q360.4,140.6 362.3,141.7" fill="none" stroke="#111" stroke-width="1.1"/>
<path d="M352.8,154.3 Q350.8,155.8 352,157.4 Q353.2,159 351.3,160.6" fill="none" stroke="#000" stroke-width="1.3"/>
<circle cx="16.2" cy="17.6" r="1.1" fill="#000"/>
<text x="169.5" y="326.3" font-size="18.8" text-anchor="middle" font-family="Liberation Serif">(a)</text>
<text x="534.9" y="326.3" font-size="18.8" text-anchor="middle" font-family="Liberation Serif">(b)</text>
</svg>
</body></html>
